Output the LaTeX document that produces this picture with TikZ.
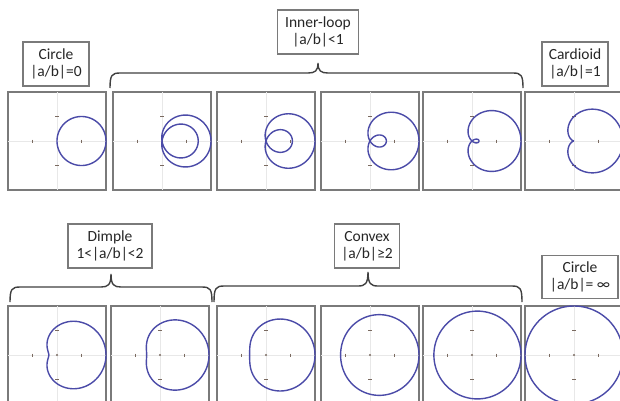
\documentclass[tikz,border=0pt]{standalone}
\usepackage{fontspec}
\setmainfont{Carlito}
\definecolor{framec}{HTML}{7A7A7A}
\definecolor{curvec}{HTML}{4B4BA8}
\definecolor{tickc}{HTML}{7A6A60}
\definecolor{gridc}{HTML}{E8E8E8}
\definecolor{bracec}{HTML}{404040}
\definecolor{textc}{HTML}{262626}
\tikzset{
  panel/.style={draw=framec, line width=1.3pt, minimum size=98pt, inner sep=0pt, outer sep=0pt},
  lab/.style={draw=framec, line width=1.3pt, fill=white, align=center,
    font=\fontsize{15.5}{17}\selectfont, text=textc, inner sep=0pt, minimum height=44pt},
  curve/.style={draw=curvec, line width=1.4pt},
  brace/.style={draw=bracec, line width=1.4pt},
  tickmark/.style={draw=tickc, line width=1pt},
  gridline/.style={draw=gridc, line width=0.6pt},
}
% name, cx, cy, a, b, center dot (1/0)
\newcommand\limpanel[6]{%
  \node[panel] (#1) at (#2,#3) {};
  \draw[gridline] (#1.west) -- (#1.east);
  \draw[gridline] (#1.north) -- (#1.south);
  \draw[tickmark] (#2-24.5,#3-1.5) -- (#2-24.5,#3+1.5);
  \draw[tickmark] (#2+24.5,#3-1.5) -- (#2+24.5,#3+1.5);
  \draw[tickmark] (#2-1.8,#3-24.5) -- (#2+1.8,#3-24.5);
  \draw[tickmark] (#2-1.8,#3+24.5) -- (#2+1.8,#3+24.5);
  \ifnum#6=1 \fill[tickc] (#2,#3) circle (1.2);\fi
  \draw[curve] plot[domain=0:360, samples=361, smooth]
    ({#2+24.5*(#4+#5*cos(\x))*cos(\x)}, {#3+24.5*(#4+#5*cos(\x))*sin(\x)});
}
\begin{document}
\begin{tikzpicture}[x=1pt, y=-1pt]
\useasboundingbox (0,0) rectangle (620,400);
\fill[white] (0,0) rectangle (620,400);
% top row
\limpanel{t1}{57}{141}{0}{2}{0}
\limpanel{t2}{162}{141}{0.2609}{1.7391}{0}
\limpanel{t3}{266}{141}{0.4615}{1.5385}{0}
\limpanel{t4}{370}{141}{0.6667}{1.3333}{0}
\limpanel{t5}{472}{141}{0.8571}{1.1429}{0}
\limpanel{t6}{574}{141}{1}{1}{0}
% bottom row
\limpanel{b1}{57}{355}{1.1667}{0.8333}{1}
\limpanel{b2}{160}{355}{1.2727}{0.7273}{1}
\limpanel{b3}{266}{355}{1.3333}{0.6667}{1}
\limpanel{b4}{370}{355}{1.6}{0.4}{1}
\limpanel{b5}{472}{355}{1.7778}{0.2222}{1}
\limpanel{b6}{574}{355}{2}{0}{1}
% labels
\node[lab, minimum width=66pt] (lcircle) at (56,64) {Circle\\|a/b|=0};
\node[lab, minimum width=81pt] (linner) at (318,32) {Inner-loop\\|a/b|<1};
\node[lab, minimum width=66pt] (lcard) at (575,64) {Cardioid\\|a/b|=1};
\node[lab, minimum width=84pt] (ldimple) at (110,246) {Dimple\\1<|a/b|<2};
\node[lab, minimum width=65pt] (lconvex) at (367,246) {Convex\\|a/b|≥2};
\node[lab, minimum width=76pt, minimum height=43pt] (lcinf) at (580,277) {Circle\\|a/b|= ∞};
% braces
\draw[brace] (110,88) .. controls (110,75) and (112,73) .. (120,73) -- (308,73)
  .. controls (315,73) and (318,71) .. (318,63)
  .. controls (318,71) and (321,73) .. (328,73) -- (513,73)
  .. controls (521,73) and (523,75) .. (523,88);
\draw[brace] (10,302) .. controls (10,289) and (12,287) .. (20,287) -- (101,287)
  .. controls (108,287) and (111,285) .. (111,274)
  .. controls (111,285) and (114,287) .. (121,287) -- (202,287)
  .. controls (210,287) and (212,289) .. (212,302);
\draw[brace] (214,302) .. controls (214,288) and (216,286) .. (224,286) -- (358,286)
  .. controls (365,286) and (368,284) .. (368,272)
  .. controls (368,284) and (371,286) .. (378,286) -- (512,286)
  .. controls (520,286) and (522,288) .. (522,302);
\end{tikzpicture}
\end{document}
